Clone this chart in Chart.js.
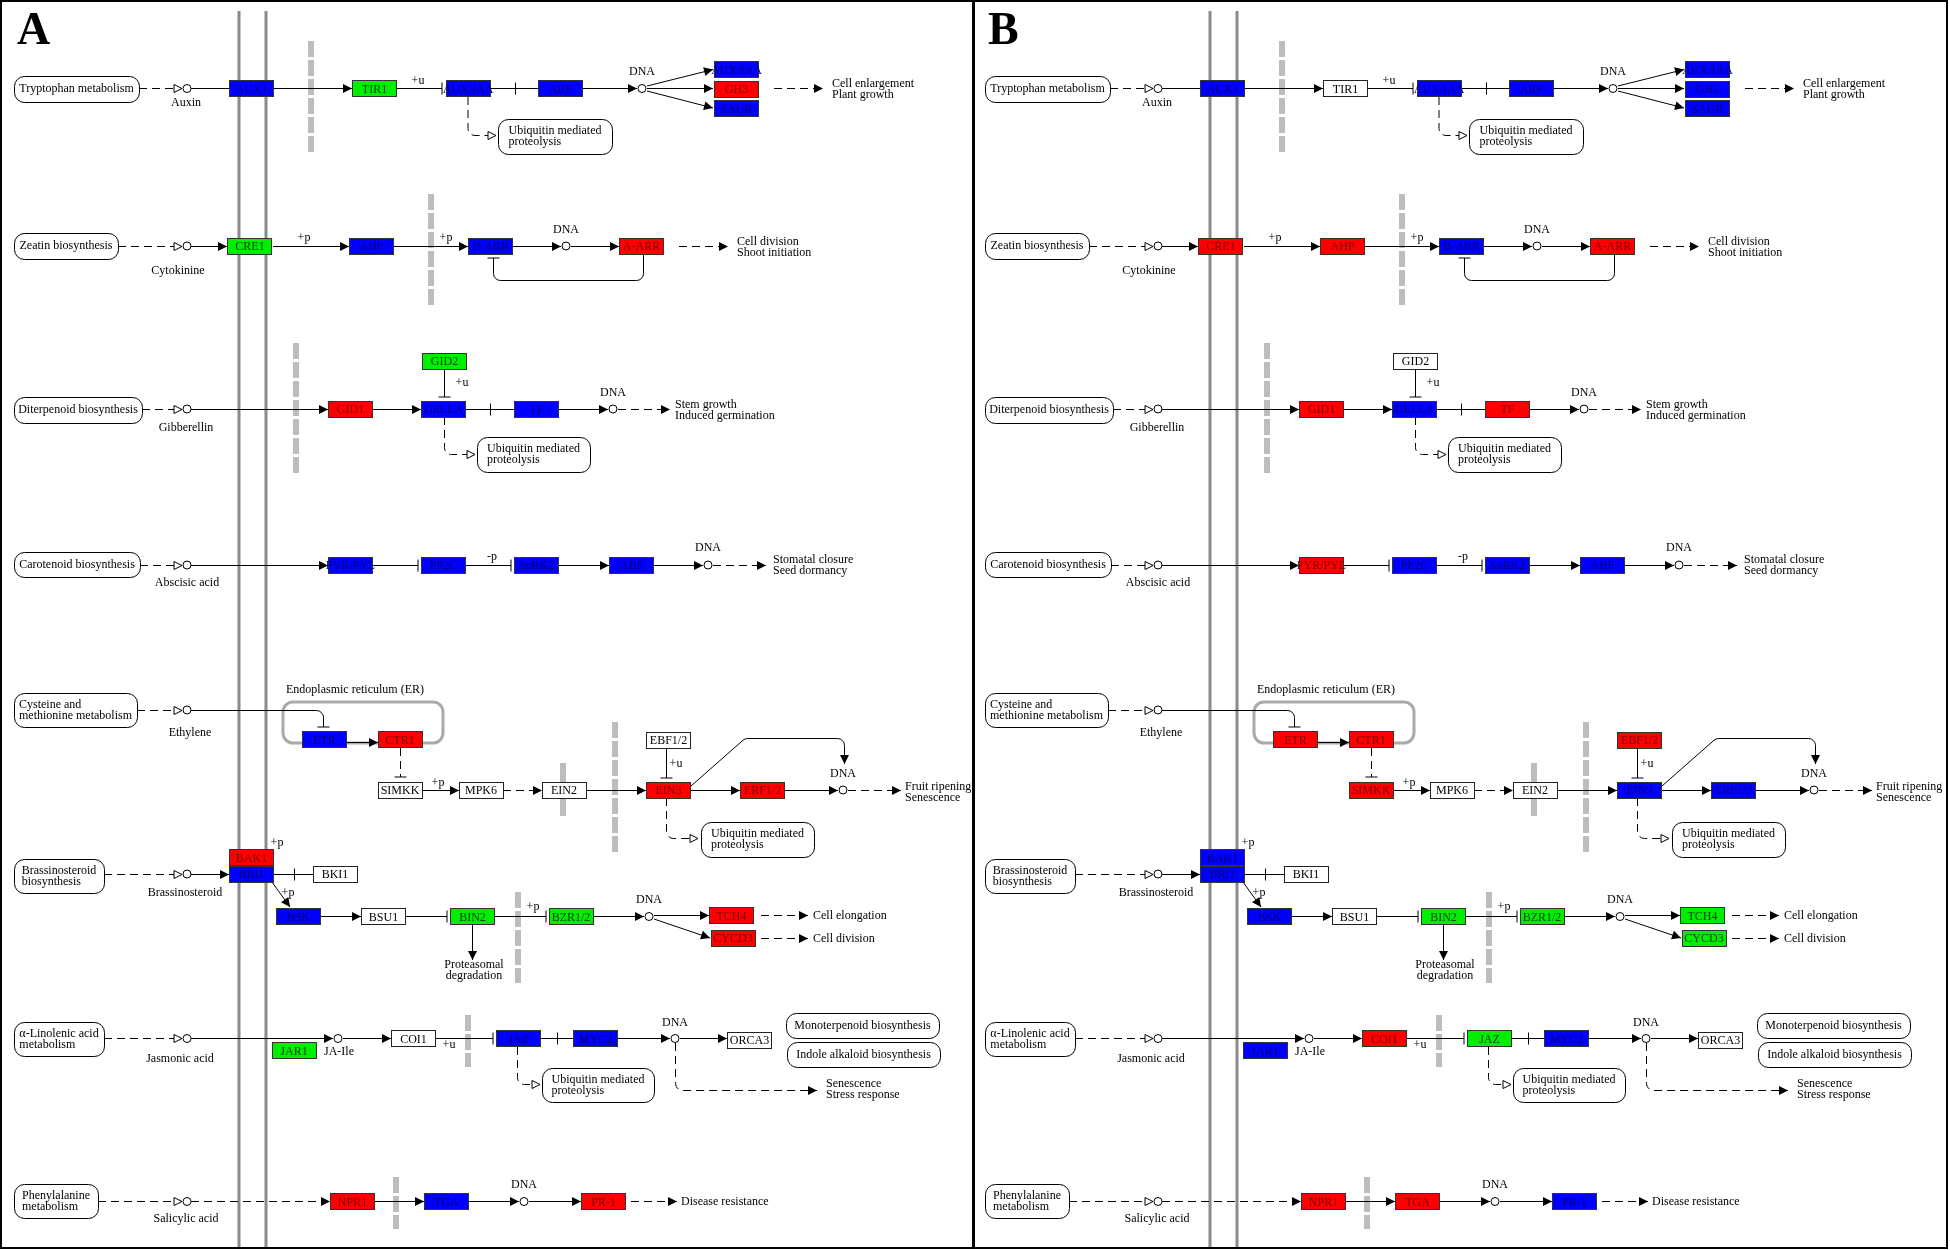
<!DOCTYPE html>
<html>
<head>
<meta charset="utf-8">
<script src="https://cdn.jsdelivr.net/npm/chart.js@4.4.1/dist/chart.umd.min.js"></script>
<style>
  body { margin: 0; background: #fff; width: 1950px; height: 1250px; position: relative; overflow: hidden; }
  canvas { position: absolute; top: 0; }
  #panelA { left: 0; }
  #panelB { left: 971px; }
</style>
</head>
<body>
<canvas id="panelA" width="979" height="1250"></canvas>
<canvas id="panelB" width="979" height="1250"></canvas>
<script>
// Gene nodes (diagram units, centre of each box)
const geneNames = ['AUX1','TIR1','AUX/IAA','ARF','AUX/IAA','GH3','SAUR',
  'CRE1','AHP','B-ARR','A-ARR',
  'GID2','GID1','DELLA','TF',
  'PYR/PYL','PP2C','SnRK2','ABF',
  'ETR','CTR1','SIMKK','MPK6','EIN2','EBF1/2','EIN3','ERF1/2',
  'BAK1','BRI1','BKI1','BSK','BSU1','BIN2','BZR1/2','TCH4','CYCD3',
  'JAR1','COI1','JAZ','MYC2','ORCA3',
  'NPR1','TGA','PR-1'];
const geneX = [251.5,374.5,468,560.5,736.5,736.5,736.5,
  250,371.5,490.5,641.5,
  444.5,350.5,443.5,536.5,
  350.5,443.5,536.5,631.5,
  324.5,400,400,481,564,668.5,668.5,762.5,
  251.5,251.5,335,298.5,383.5,472.5,571,731.5,733,
  294,413.5,518.5,595.5,749.5,
  352.5,446.5,603.5];
const geneY = [88.5,88.5,88.5,88.5,69.5,89,108.5,
  246,246,246,246,
  361,409,409,409,
  565,565,565,565,
  739.5,739.5,790,790,790,740,790,790,
  857.5,874,874,916.5,916.5,916.5,916.5,915.5,938,
  1050.5,1038.5,1038.5,1038.5,1040,
  1201.5,1201.5,1201.5];

// Expression colour per gene: R up, G down, B mixed, W not found
const panelAColors = ['B','G','B','B','B','R','B',
  'G','B','B','R',
  'G','R','B','B',
  'B','B','B','B',
  'B','R','W','W','W','W','R','R',
  'R','B','W','B','W','G','G','R','R',
  'G','W','B','B','W',
  'R','B','R'];
const panelBColors = ['B','W','B','B','B','B','B',
  'R','R','B','R',
  'W','R','B','R',
  'R','B','B','B',
  'R','R','R','W','W','R','B','B',
  'B','B','W','B','W','G','G','G','G',
  'B','R','G','B','W',
  'R','R','B'];

// Compounds and DNA circles
const compoundX = [187,187,187,187,187,187,187,187,338,
  642,566,613,708,843,649,675,524];
const compoundY = [88.5,246,409,565,710,874,1038.5,1201.5,1038.5,
  88.5,246,409,565,790,916.5,1038.5,1201.5];

// Pathway map boxes: text, x0, y0, x1, y1
const mapBoxes = [
  ['Tryptophan metabolism',14,76,139,102],
  ['Zeatin biosynthesis',14,233,118,259],
  ['Diterpenoid biosynthesis',14,397,142,423],
  ['Carotenoid biosynthesis',14,552,140,577],
  ['Cysteine and\nmethionine metabolism',14,693,137,727],
  ['Brassinosteroid\nbiosynthesis',14,859,104,893],
  ['\u03b1-Linolenic acid\nmetabolism',14,1022,104,1056],
  ['Phenylalanine\nmetabolism',14,1184,98,1218],
  ['Ubiquitin mediated\nproteolysis',498,119,612,154],
  ['Ubiquitin mediated\nproteolysis',477,437,590,472],
  ['Ubiquitin mediated\nproteolysis',701,822,814,857],
  ['Ubiquitin mediated\nproteolysis',542,1068,654,1102],
  ['Monoterpenoid biosynthesis',786,1013,939,1038],
  ['Indole alkaloid biosynthesis',787,1042,940,1067]
];

// Text labels: text, x, y, align
const labels = [
  ['Auxin',186,103,'c'],['Cytokinine',178,271,'c'],['Gibberellin',186,428,'c'],
  ['Abscisic acid',187,583,'c'],['Ethylene',190,733,'c'],['Brassinosteroid',185,893,'c'],
  ['Jasmonic acid',180,1059,'c'],['Salicylic acid',186,1219,'c'],['JA-Ile',339,1052,'c'],
  ['DNA',642,72,'c'],['DNA',566,230,'c'],['DNA',613,393,'c'],['DNA',708,548,'c'],
  ['DNA',843,774,'c'],['DNA',649,900,'c'],['DNA',675,1023,'c'],['DNA',524,1185,'c'],
  ['Cell enlargement\nPlant growth',832,84,'l'],
  ['Cell division\nShoot initiation',737,242,'l'],
  ['Stem growth\nInduced germination',675,405,'l'],
  ['Stomatal closure\nSeed dormancy',773,560,'l'],
  ['Fruit ripening\nSenescence',905,787,'l'],
  ['Cell elongation',813,916,'l'],['Cell division',813,939,'l'],
  ['Senescence\nStress response',826,1084,'l'],
  ['Disease resistance',681,1202,'l'],
  ['Proteasomal\ndegradation',474,965,'c'],
  ['Endoplasmic reticulum (ER)',355,690,'c'],
  ['+u',418,81,'c'],['+p',304,238,'c'],['+p',446,238,'c'],['+u',462,383,'c'],
  ['-p',492,557,'c'],['+p',438,783,'c'],['+u',676,764,'c'],['+p',277,843,'c'],
  ['+p',288,893,'c'],['+p',533,907,'c'],['+u',449,1045,'c']
];

// Relations: type, path
const edges = [
  ['open',[[139,88.5],[182,88.5]]],['line',[[191,88.5],[229,88.5]]],
  ['arrow',[[274,88.5],[352,88.5]]],['inhibit',[[397,88.5],[442,88.5]]],
  ['mid',[[491,88.5],[538,88.5]]],['arrow',[[583,88.5],[637,88.5]]],
  ['arrow',[[647,86],[713,69.5]]],['arrow',[[647,88.5],[713,88.5]]],['arrow',[[647,91],[713,108]]],
  ['dash',[[774,88.5],[823,88.5]]],['open',[[468,97],[468,135.5],[496,135.5]]],

  ['open',[[118,246.5],[182,246.5]]],['arrow',[[191,246.5],[227,246.5]]],
  ['arrow',[[273,246.5],[349,246.5]]],['arrow',[[394,246.5],[468,246.5]]],
  ['arrow',[[513,246.5],[561,246.5]]],['arrow',[[571,246.5],[619,246.5]]],
  ['dash',[[679,246.5],[728,246.5]]],['inhibit',[[643.5,254],[643.5,280.5],[493.5,280.5],[493.5,258]]],

  ['open',[[142,409.5],[182,409.5]]],['arrow',[[191,409.5],[328,409.5]]],
  ['arrow',[[373,409.5],[421,409.5]]],['inhibit',[[444.5,369],[444.5,397]]],
  ['mid',[[466,409.5],[514,409.5]]],['arrow',[[559,409.5],[608,409.5]]],
  ['dash',[[618,409.5],[670,409.5]]],['open',[[444.5,417],[444.5,454.5],[475,454.5]]],

  ['open',[[140,565.5],[182,565.5]]],['arrow',[[191,565.5],[328,565.5]]],
  ['inhibit',[[373,565.5],[418,565.5]]],['inhibit',[[466,565.5],[511,565.5]]],
  ['arrow',[[559,565.5],[609,565.5]]],['arrow',[[654,565.5],[703,565.5]]],
  ['dash',[[713,565.5],[766,565.5]]],

  ['open',[[137,710.5],[182,710.5]]],['inhibit',[[191,710.5],[323.5,710.5],[323.5,727]]],
  ['arrow',[[347,742.5],[378,742.5]]],['dashbar',[[400.5,748],[400.5,777]]],
  ['arrow',[[422,790.5],[459,790.5]]],['dash',[[503,790.5],[542,790.5]]],
  ['arrow',[[586,790.5],[646,790.5]]],['inhibit',[[666.5,748],[666.5,778]]],
  ['arrow',[[691,790.5],[740,790.5]]],['arrow',[[785,790.5],[838,790.5]]],
  ['dash',[[848,790.5],[901,790.5]]],
  ['arrow',[[691,786],[745,738.5],[844.5,738.5],[844.5,764]]],
  ['open',[[666.5,798],[666.5,838.5],[698,838.5]]],

  ['open',[[104,874.5],[182,874.5]]],['arrow',[[191,874.5],[229,874.5]]],
  ['mid',[[274,874.5],[313,874.5]]],['arrow',[[272,882],[290,907]]],
  ['arrow',[[321,916.5],[361,916.5]]],['inhibit',[[406,916.5],[447,916.5]]],
  ['arrow',[[472.5,925],[472.5,960]]],['inhibit',[[495,916.5],[546,916.5]]],
  ['arrow',[[593,916.5],[644,916.5]]],['arrow',[[654,915.5],[709,915.5]]],
  ['arrow',[[654,919],[710,938]]],['dash',[[761,915.5],[808,915.5]]],
  ['dash',[[761,938.5],[808,938.5]]],

  ['open',[[104,1038.5],[182,1038.5]]],['arrow',[[191,1038.5],[333,1038.5]]],
  ['arrow',[[343,1038.5],[391,1038.5]]],['inhibit',[[436,1038.5],[493,1038.5]]],
  ['mid',[[541,1038.5],[573,1038.5]]],['arrow',[[618,1038.5],[670,1038.5]]],
  ['arrow',[[680,1038.5],[727,1038.5]]],['open',[[517.5,1047],[517.5,1084.5],[540,1084.5]]],
  ['dash',[[675.5,1043],[675.5,1090.5],[817,1090.5]]],

  ['open',[[98,1201.5],[182,1201.5]]],['dash',[[191,1201.5],[330,1201.5]]],
  ['arrow',[[375,1201.5],[424,1201.5]]],['arrow',[[469,1201.5],[519,1201.5]]],
  ['arrow',[[529,1201.5],[581,1201.5]]],['dash',[[631,1201.5],[677,1201.5]]]
];

// Membrane lines, dashed barriers (x, y0, y1), solid gray bar
const membraneX = [239, 266];
const barriers = [[311,41,152],[431,194,305],[296,343,474],[615,722,853],[518,892,983],[468,1015,1067],[396,1177,1229]];
const solidBars = [[563,763,816]];
const erBox = [283,702,443,743];

const FILL = { R: '#ff0000', G: '#00ee00', B: '#0000ff', W: '#ffffff' };
const INK = { R: '#7a0000', G: '#0a3a0a', B: '#00006e', W: '#000000' };
const FONT = '"Liberation Serif", "DejaVu Serif", serif';

const pathwayPlugin = {
  id: 'pathway',
  beforeDatasetsDraw(chart, args, opts) {
    const ctx = chart.ctx;
    const px = v => chart.scales.x.getPixelForValue(v);
    const py = v => chart.scales.y.getPixelForValue(v);
    ctx.save();

    // membrane
    ctx.strokeStyle = '#8a8a8a';
    ctx.lineWidth = 3;
    membraneX.forEach(x => {
      ctx.beginPath(); ctx.moveTo(px(x), py(11)); ctx.lineTo(px(x), py(1248)); ctx.stroke();
    });

    // barriers
    ctx.strokeStyle = '#bdbdbd';
    ctx.lineWidth = 6;
    ctx.setLineDash([16, 3]);
    barriers.forEach(b => {
      ctx.beginPath(); ctx.moveTo(px(b[0]), py(b[1])); ctx.lineTo(px(b[0]), py(b[2])); ctx.stroke();
    });
    ctx.setLineDash([]);
    solidBars.forEach(b => {
      ctx.beginPath(); ctx.moveTo(px(b[0]), py(b[1])); ctx.lineTo(px(b[0]), py(b[2])); ctx.stroke();
    });

    // ER
    ctx.strokeStyle = '#aaaaaa';
    ctx.lineWidth = 3;
    ctx.beginPath();
    ctx.roundRect(px(erBox[0]), py(erBox[1]), px(erBox[2]) - px(erBox[0]), py(erBox[3]) - py(erBox[1]), 10);
    ctx.stroke();

    // relations
    ctx.strokeStyle = '#000';
    ctx.fillStyle = '#000';
    ctx.lineWidth = 1;
    edges.forEach(([type, path]) => {
      const pts = path.map(p => [px(p[0]), py(p[1])]);
      const dashed = type === 'open' || type === 'dash' || type === 'dashbar';
      ctx.setLineDash(dashed ? [8, 5] : []);
      ctx.beginPath();
      ctx.moveTo(pts[0][0], pts[0][1]);
      for (let i = 1; i < pts.length - 1; i++) ctx.arcTo(pts[i][0], pts[i][1], pts[i + 1][0], pts[i + 1][1], 7);
      const n = pts.length;
      ctx.lineTo(pts[n - 1][0], pts[n - 1][1]);
      ctx.stroke();
      ctx.setLineDash([]);
      const [ex, ey] = pts[n - 1];
      const dx = ex - pts[n - 2][0], dy = ey - pts[n - 2][1];
      const len = Math.hypot(dx, dy);
      const ux = dx / len, uy = dy / len;
      if (type === 'arrow' || type === 'dash') {
        ctx.beginPath();
        ctx.moveTo(ex, ey);
        ctx.lineTo(ex - ux * 9 - uy * 4.5, ey - uy * 9 + ux * 4.5);
        ctx.lineTo(ex - ux * 9 + uy * 4.5, ey - uy * 9 - ux * 4.5);
        ctx.closePath();
        ctx.fill();
      } else if (type === 'open') {
        ctx.beginPath();
        ctx.moveTo(ex, ey);
        ctx.lineTo(ex - ux * 8 - uy * 4, ey - uy * 8 + ux * 4);
        ctx.lineTo(ex - ux * 8 + uy * 4, ey - uy * 8 - ux * 4);
        ctx.closePath();
        ctx.fillStyle = '#fff';
        ctx.fill();
        ctx.stroke();
        ctx.fillStyle = '#000';
      } else if (type === 'inhibit' || type === 'dashbar') {
        ctx.beginPath();
        ctx.moveTo(ex - uy * 6, ey + ux * 6);
        ctx.lineTo(ex + uy * 6, ey - ux * 6);
        ctx.stroke();
      } else if (type === 'mid') {
        const mx = Math.round((pts[0][0] + ex) / 2) + 0.5, my = (pts[0][1] + ey) / 2;
        ctx.beginPath();
        ctx.moveTo(mx - uy * 6, my + ux * 6);
        ctx.lineTo(mx + uy * 6, my - ux * 6);
        ctx.stroke();
      }
    });

    // pathway map boxes
    ctx.font = '12px ' + FONT;
    ctx.textBaseline = 'middle';
    ctx.textAlign = 'left';
    mapBoxes.forEach(([text, x0, y0, x1, y1]) => {
      const X0 = px(x0), Y0 = py(y0), W = px(x1) - X0, H = py(y1) - Y0;
      ctx.fillStyle = '#fff';
      ctx.strokeStyle = '#000';
      ctx.beginPath();
      ctx.roundRect(Math.round(X0) + 0.5, Math.round(Y0) + 0.5, Math.round(W), Math.round(H), 10);
      ctx.fill(); ctx.stroke();
      const lines = text.split('\n');
      const maxW = Math.max(...lines.map(l => ctx.measureText(l).width));
      const tx = X0 + (W - maxW) / 2;
      const ty = Y0 + H / 2 - (lines.length - 1) * 5.5;
      ctx.fillStyle = '#000';
      lines.forEach((l, i) => ctx.fillText(l, tx, ty + i * 11));
    });

    // labels
    labels.forEach(([text, x, y, al]) => {
      ctx.textAlign = al === 'c' ? 'center' : 'left';
      text.split('\n').forEach((l, i) => ctx.fillText(l, px(x), py(y) + i * 11));
    });
    ctx.restore();
  },
  afterDatasetsDraw(chart, args, opts) {
    const ctx = chart.ctx;
    const px = v => chart.scales.x.getPixelForValue(v);
    const py = v => chart.scales.y.getPixelForValue(v);
    const meta = chart.getDatasetMeta(0);
    ctx.save();
    ctx.font = '12px ' + FONT;
    ctx.textAlign = 'center';
    ctx.textBaseline = 'middle';
    meta.data.forEach((pt, i) => {
      const c = opts.colors[i];
      const w = px(22.5) - px(0), h = py(8.5) - py(0);
      const x0 = Math.round(pt.x - w), y0 = Math.round(pt.y - h);
      ctx.fillStyle = FILL[c];
      ctx.fillRect(x0, y0, Math.round(2 * w), Math.round(2 * h));
      ctx.strokeStyle = c === 'W' ? '#222' : '#333';
      ctx.lineWidth = 1;
      ctx.strokeRect(x0 + 0.5, y0 + 0.5, Math.round(2 * w) - 1, Math.round(2 * h) - 1);
      ctx.fillStyle = INK[c];
      ctx.fillText(geneNames[i], pt.x, pt.y + 1);
    });

    // panel letter and frame
    ctx.fillStyle = '#000';
    ctx.font = 'bold 46px ' + FONT;
    ctx.textAlign = 'left';
    ctx.textBaseline = 'alphabetic';
    ctx.fillText(opts.letter, px(17), py(44));
    ctx.strokeStyle = '#000';
    ctx.lineWidth = 2;
    ctx.strokeRect(px(opts.frame[0]), py(1), px(opts.frame[1]) - px(opts.frame[0]), py(1248) - py(1));
    ctx.restore();
  }
};

function makePanel(id, colors, letter, frame) {
  return new Chart(document.getElementById(id), {
    type: 'scatter',
    data: {
      datasets: [
        { data: geneX.map((x, i) => ({ x: x, y: geneY[i] })), pointRadius: 0 },
        { data: compoundX.map((x, i) => ({ x: x, y: compoundY[i] })),
          pointStyle: 'circle', pointRadius: 4,
          pointBackgroundColor: '#fff', pointBorderColor: '#000', pointBorderWidth: 1 }
      ]
    },
    options: {
      responsive: false,
      devicePixelRatio: 1,
      animation: false,
      events: [],
      layout: { padding: 0, autoPadding: false },
      scales: {
        x: { type: 'linear', min: 0, max: 979, display: false },
        y: { type: 'linear', min: 0, max: 1250, reverse: true, display: false }
      },
      plugins: {
        legend: { display: false },
        tooltip: { enabled: false },
        pathway: { colors: colors, letter: letter, frame: frame }
      }
    },
    plugins: [pathwayPlugin]
  });
}

makePanel('panelA', panelAColors, 'A', [1, 973]);
makePanel('panelB', panelBColors, 'B', [3, 976]);
</script>
</body>
</html>
